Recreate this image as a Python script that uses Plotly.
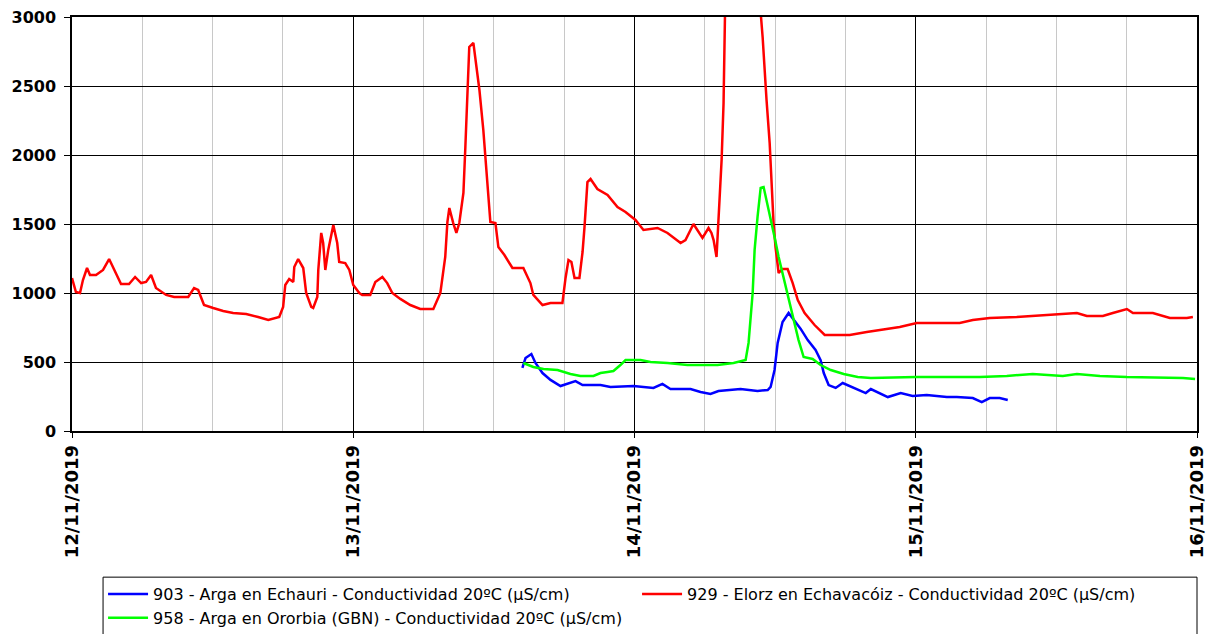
import plotly.graph_objects as go

# ---- data ----
red_name = "929 - Elorz en Echavacóiz - Conductividad 20ºC (µS/cm)"
red_t = [
    "2019-11-12 00:00", "2019-11-12 00:20", "2019-11-12 00:41", "2019-11-12 00:56", "2019-11-12 01:17",
    "2019-11-12 01:32", "2019-11-12 02:03", "2019-11-12 02:39", "2019-11-12 03:10", "2019-11-12 03:35",
    "2019-11-12 04:11", "2019-11-12 04:52", "2019-11-12 05:23", "2019-11-12 05:54", "2019-11-12 06:19",
    "2019-11-12 06:45", "2019-11-12 07:10", "2019-11-12 08:02", "2019-11-12 08:43", "2019-11-12 09:55",
    "2019-11-12 10:25", "2019-11-12 10:46", "2019-11-12 11:16", "2019-11-12 12:03", "2019-11-12 12:54",
    "2019-11-12 13:45", "2019-11-12 14:52", "2019-11-12 15:53", "2019-11-12 16:45", "2019-11-12 17:41",
    "2019-11-12 18:01", "2019-11-12 18:12", "2019-11-12 18:32", "2019-11-12 18:53", "2019-11-12 18:58",
    "2019-11-12 19:18", "2019-11-12 19:44", "2019-11-12 19:59", "2019-11-12 20:25", "2019-11-12 20:35",
    "2019-11-12 20:56", "2019-11-12 21:01", "2019-11-12 21:16", "2019-11-12 21:26", "2019-11-12 21:37",
    "2019-11-12 21:52", "2019-11-12 22:18", "2019-11-12 22:38", "2019-11-12 22:48", "2019-11-12 23:19",
    "2019-11-12 23:40", "2019-11-13 00:00", "2019-11-13 00:31", "2019-11-13 00:46", "2019-11-13 01:27",
    "2019-11-13 01:53", "2019-11-13 02:29", "2019-11-13 02:54", "2019-11-13 03:20", "2019-11-13 04:01",
    "2019-11-13 04:52", "2019-11-13 05:43", "2019-11-13 06:50", "2019-11-13 07:26", "2019-11-13 07:51",
    "2019-11-13 08:02", "2019-11-13 08:12", "2019-11-13 08:32", "2019-11-13 08:48", "2019-11-13 09:03",
    "2019-11-13 09:24", "2019-11-13 09:34", "2019-11-13 09:44", "2019-11-13 09:54", "2019-11-13 10:15",
    "2019-11-13 10:30", "2019-11-13 10:46", "2019-11-13 11:06", "2019-11-13 11:16", "2019-11-13 11:32",
    "2019-11-13 11:42", "2019-11-13 12:08", "2019-11-13 12:23", "2019-11-13 12:54", "2019-11-13 13:35",
    "2019-11-13 14:31", "2019-11-13 15:07", "2019-11-13 15:22", "2019-11-13 16:09", "2019-11-13 16:50",
    "2019-11-13 17:51", "2019-11-13 18:07", "2019-11-13 18:22", "2019-11-13 18:37", "2019-11-13 18:53",
    "2019-11-13 19:18", "2019-11-13 19:34", "2019-11-13 19:44", "2019-11-13 19:59", "2019-11-13 20:15",
    "2019-11-13 20:50", "2019-11-13 21:42", "2019-11-13 22:33", "2019-11-13 23:14", "2019-11-13 23:55",
    "2019-11-14 00:05", "2019-11-14 00:46", "2019-11-14 01:58", "2019-11-14 02:49", "2019-11-14 03:56",
    "2019-11-14 04:21", "2019-11-14 05:02", "2019-11-14 05:48", "2019-11-14 06:09", "2019-11-14 06:19",
    "2019-11-14 06:34", "2019-11-14 06:45", "2019-11-14 07:00", "2019-11-14 07:10", "2019-11-14 07:26",
    "2019-11-14 07:36", "2019-11-14 07:50", "2019-11-14 09:00", "2019-11-14 10:25", "2019-11-14 10:56",
    "2019-11-14 11:06", "2019-11-14 11:16", "2019-11-14 11:32", "2019-11-14 11:42", "2019-11-14 11:52",
    "2019-11-14 12:02", "2019-11-14 12:18", "2019-11-14 12:38", "2019-11-14 13:04", "2019-11-14 13:30",
    "2019-11-14 13:56", "2019-11-14 14:31", "2019-11-14 15:22", "2019-11-14 16:14", "2019-11-14 18:22",
    "2019-11-14 19:49", "2019-11-14 20:56", "2019-11-14 22:38", "2019-11-15 00:05", "2019-11-15 03:45",
    "2019-11-15 04:52", "2019-11-15 06:19", "2019-11-15 08:37", "2019-11-15 09:59", "2019-11-15 12:33",
    "2019-11-15 13:45", "2019-11-15 14:36", "2019-11-15 15:58", "2019-11-15 16:49", "2019-11-15 18:01",
    "2019-11-15 18:32", "2019-11-15 20:14", "2019-11-15 21:41", "2019-11-15 23:08", "2019-11-15 23:39",
]
red_v = [
    1109, 1007, 1000, 1094, 1181,
    1130, 1130, 1167, 1246, 1167,
    1065, 1065, 1116, 1072, 1080,
    1130, 1036, 986, 971, 971,
    1036, 1022, 913, 891, 870,
    855, 848, 826, 804, 826,
    899, 1058, 1101, 1080, 1188,
    1246, 1181, 1000, 899, 891,
    971, 1167, 1435, 1362, 1167,
    1312, 1493, 1362, 1225, 1217,
    1167, 1058, 1000, 986, 986,
    1080, 1116, 1072, 1000, 957,
    913, 884, 884, 1000, 1261,
    1514, 1616, 1507, 1435, 1507,
    1725, 2058, 2486, 2783, 2812,
    2638, 2471, 2181, 1986, 1696,
    1514, 1507, 1333, 1275, 1181,
    1181, 1072, 986, 913, 928,
    928, 1109, 1239, 1225, 1109,
    1109, 1297, 1478, 1804, 1826,
    1754, 1710, 1623, 1587, 1543,
    1529, 1457, 1471, 1435, 1362,
    1384, 1500, 1399, 1442, 1471,
    1435, 1384, 1261, 1551, 1964,
    2377, 3600, 4300, 3400, 2855,
    2616, 2399, 2087, 1797, 1507,
    1333, 1145, 1174, 1174, 1072,
    949, 855, 768, 696, 696,
    717, 732, 754, 783, 783,
    804, 819, 826, 833, 848,
    855, 833, 833, 855, 884,
    855, 855, 819, 819, 826,
]

green_name = "958 - Arga en Ororbia (GBN) - Conductividad 20ºC (µS/cm)"
green_t = [
    "2019-11-13 14:31", "2019-11-13 15:22", "2019-11-13 16:14", "2019-11-13 17:26", "2019-11-13 18:32",
    "2019-11-13 19:23", "2019-11-13 20:30", "2019-11-13 21:06", "2019-11-13 21:42", "2019-11-13 22:12",
    "2019-11-13 22:48", "2019-11-13 23:14", "2019-11-14 00:31", "2019-11-14 01:22", "2019-11-14 02:49",
    "2019-11-14 04:31", "2019-11-14 07:05", "2019-11-14 08:27", "2019-11-14 09:29", "2019-11-14 09:44",
    "2019-11-14 10:05", "2019-11-14 10:15", "2019-11-14 10:30", "2019-11-14 10:46", "2019-11-14 11:01",
    "2019-11-14 11:22", "2019-11-14 11:37", "2019-11-14 11:57", "2019-11-14 12:18", "2019-11-14 12:43",
    "2019-11-14 13:09", "2019-11-14 13:35", "2019-11-14 14:00", "2019-11-14 14:26", "2019-11-14 15:12",
    "2019-11-14 15:53", "2019-11-14 16:45", "2019-11-14 17:51", "2019-11-14 19:03", "2019-11-14 20:10",
    "2019-11-15 00:00", "2019-11-15 05:28", "2019-11-15 07:46", "2019-11-15 09:59", "2019-11-15 12:33",
    "2019-11-15 13:45", "2019-11-15 15:43", "2019-11-15 18:01", "2019-11-15 22:48", "2019-11-15 23:50",
]
green_v = [
    493, 464, 449, 442, 413,
    399, 399, 420, 428, 435,
    478, 514, 514, 500, 493,
    478, 478, 493, 514, 638,
    1000, 1312, 1551, 1761, 1768,
    1638, 1551, 1406, 1261, 1116,
    971, 826, 659, 536, 522,
    478, 442, 413, 391, 384,
    391, 391, 399, 413, 399,
    413, 399, 391, 384, 377,
]

blue_name = "903 - Arga en Echauri - Conductividad 20ºC (µS/cm)"
blue_t = [
    "2019-11-13 14:26", "2019-11-13 14:42", "2019-11-13 15:12", "2019-11-13 15:33", "2019-11-13 16:09",
    "2019-11-13 16:50", "2019-11-13 17:41", "2019-11-13 18:17", "2019-11-13 18:58", "2019-11-13 19:34",
    "2019-11-13 21:06", "2019-11-13 21:57", "2019-11-13 23:55", "2019-11-14 01:37", "2019-11-14 02:23",
    "2019-11-14 03:04", "2019-11-14 04:47", "2019-11-14 05:38", "2019-11-14 06:29", "2019-11-14 07:10",
    "2019-11-14 09:03", "2019-11-14 10:30", "2019-11-14 11:22", "2019-11-14 11:37", "2019-11-14 11:57",
    "2019-11-14 12:13", "2019-11-14 12:38", "2019-11-14 13:09", "2019-11-14 13:35", "2019-11-14 14:11",
    "2019-11-14 14:47", "2019-11-14 15:27", "2019-11-14 15:53", "2019-11-14 16:09", "2019-11-14 16:34",
    "2019-11-14 17:10", "2019-11-14 17:46", "2019-11-14 18:42", "2019-11-14 19:44", "2019-11-14 20:10",
    "2019-11-14 21:37", "2019-11-14 22:43", "2019-11-14 23:44", "2019-11-15 00:56", "2019-11-15 02:39",
    "2019-11-15 03:30", "2019-11-15 04:52", "2019-11-15 05:38", "2019-11-15 06:19", "2019-11-15 07:10",
    "2019-11-15 07:51",
]
blue_v = [
    457, 529, 558, 493, 420,
    370, 326, 341, 362, 333,
    333, 319, 326, 312, 341,
    304, 304, 283, 268, 290,
    304, 290, 297, 319, 442,
    638, 790, 855, 804, 740,
    659, 587, 514, 420, 333,
    312, 348, 312, 275, 304,
    246, 275, 254, 261, 246,
    246, 239, 210, 239, 239,
    225,
]

y_ticks = [0, 500, 1000, 1500, 2000, 2500, 3000]
x_range = ["2019-11-12 00:00", "2019-11-16 00:00"]

# ---- figure ----
fig = go.Figure()
fig.add_trace(go.Scatter(x=blue_t, y=blue_v, mode="lines", name=blue_name,
                         line=dict(color="#0000FF", width=2.5)))
fig.add_trace(go.Scatter(x=red_t, y=red_v, mode="lines", name=red_name,
                         line=dict(color="#FF0000", width=2.5)))
fig.add_trace(go.Scatter(x=green_t, y=green_v, mode="lines", name=green_name,
                         line=dict(color="#00FF00", width=2.5)))

y_tick_font = dict(family="DejaVu Sans", size=16, color="black", weight="bold")
x_tick_font = dict(family="DejaVu Sans", size=18, color="black", weight="bold")

fig.update_layout(
    width=1208, height=634,
    margin=dict(l=72, r=11, t=17, b=203, autoexpand=False),
    paper_bgcolor="white", plot_bgcolor="white",
    showlegend=True,
    legend=dict(
        orientation="h", x=0.0276, xanchor="left", y=-0.353, yanchor="top",
        entrywidth=479, entrywidthmode="pixels",
        borderwidth=0, bgcolor="rgba(0,0,0,0)",
        font=dict(family="DejaVu Sans", size=16, color="black"),
        itemwidth=40, tracegroupgap=0,
    ),
    # frame around the legend, spanning the width used by the original legend box
    shapes=[dict(type="rect", xref="paper", yref="paper",
                 x0=0.0276, x1=1.0, y0=-0.52, y1=-0.353,
                 line=dict(color="black", width=1), fillcolor="rgba(0,0,0,0)")],
    xaxis=dict(
        type="date", range=x_range, automargin=False,
        dtick=86400000, tick0="2019-11-12", tickformat="%d/%m/%Y",
        tickangle=-90, tickfont=x_tick_font,
        ticks="outside", ticklen=5, tickcolor="black",
        showgrid=True, gridcolor="black", gridwidth=1.3,
        showline=True, linecolor="black", linewidth=1.5, mirror=True,
        minor=dict(dtick=21600000, showgrid=True, gridcolor="#c8c8c8", gridwidth=1.3),
        zeroline=False,
    ),
    yaxis=dict(
        range=[0, 3000], tickvals=y_ticks, automargin=False,
        tickfont=y_tick_font, ticklabelstandoff=5,
        ticks="outside", ticklen=6, tickcolor="black",
        showgrid=True, gridcolor="black", gridwidth=1.3,
        showline=True, linecolor="black", linewidth=1.5, mirror=True,
        zeroline=False,
    ),
)

fig.write_html("out.html", config={"displayModeBar": False},
               post_script="document.body.style.margin='0px';document.body.style.overflow='hidden';")
